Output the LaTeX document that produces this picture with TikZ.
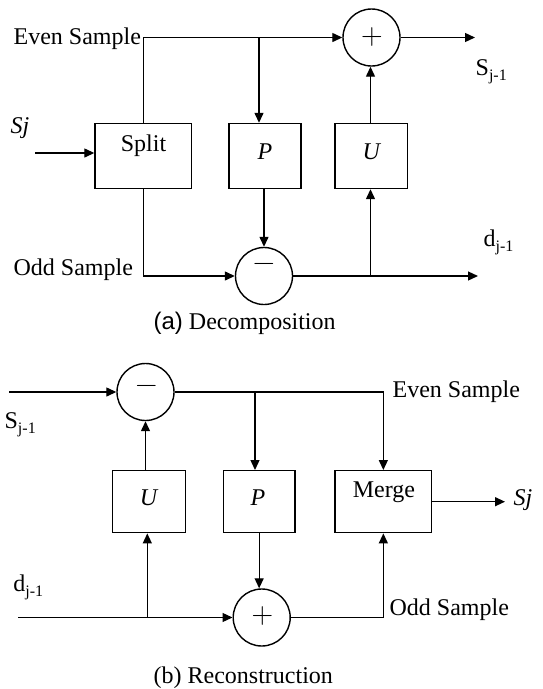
\documentclass[tikz,border=0pt]{standalone}
\usepackage{fontspec}
\setmainfont{Liberation Serif}
\newfontfamily\arialf{Liberation Sans}
\newfontfamily\lmfont{Latin Modern Roman}
\usetikzlibrary{arrows.meta}
\newcommand\subsc[1]{\raisebox{-5pt}{\fontsize{16}{16}\selectfont #1}}
\begin{document}
\begin{tikzpicture}[x=1pt,y=-1pt,line width=1.3pt,
  font=\fontsize{24}{26}\selectfont,
  arr/.style={-{Triangle[length=10pt,width=9pt]}},
  blk/.style={draw,line width=1.4pt,inner sep=0pt,minimum height=#1},
  sumc/.style={draw,circle,line width=1.4pt,inner sep=0pt,minimum size=57pt},
  glyph/.style={inner sep=0pt,font=\lmfont\fontsize{30}{30}\selectfont},
  lbl/.style={anchor=base west,inner sep=0pt},
  intxt/.style={anchor=base,inner sep=0pt}]
\useasboundingbox[fill=white] (0,0) rectangle (543,689);

% ---------------- (a) Decomposition ----------------
\node[blk=65pt,minimum width=96.5pt] (split) at (143.25,156) {};
\node[blk=65pt,minimum width=72pt] (PA) at (265,156) {};
\node[blk=65pt,minimum width=72.5pt] (UA) at (371.25,156) {};
\node[sumc] (plusA) at (371.5,37.5) {};
\node[sumc] (minusA) at (264,276) {};
\node[glyph] (plusAg) at (372,37.5) {+};
\node[glyph] (minusAg) at (264,267) {−};

\node[intxt] (splitT) at (143.5,151) {Split};
\node[intxt] (PAt) at (265,159) {\textit{P}};
\node[intxt] (UAt) at (372,159) {\textit{U}};

\node[lbl] (evenA) at (13,44) {Even Sample};
\node[lbl] (oddA) at (13,275) {Odd Sample};
\node[lbl] (sjA) at (10,133) {\textit{Sj}};
\node[lbl] (sA) at (475,75) {S\subsc{j-1}};
\node[lbl] (dA) at (483,246) {d\subsc{j-1}};
\node[lbl] (capA) at (153,329) {{\arialf (a)} Decomposition};

\coordinate (inA) at (35,153);
\coordinate (tapA) at (259,37.5);
\coordinate (outA) at (475,37.5);
\coordinate (dOutA) at (478,276);
\coordinate (brA) at (370.5,276);

\draw[arr] (inA) -- (inA -| split.west);
\draw[arr] (split.north) |- (plusA.west);
\draw[arr] (tapA) -- (tapA |- PA.north);
\draw[arr] (plusA.east) -- (outA);
\draw[arr] (split.south) |- (minusA.west);
\draw[arr] (minusA.north |- PA.south) -- (minusA.north);
\draw[arr] (minusA.east) -- (dOutA);
\draw[arr] (brA) -- (brA |- UA.south);
\draw[arr] (brA |- UA.north) -- (brA |- plusA.south);

% ---------------- (b) Reconstruction ----------------
\node[blk=62pt,minimum width=73pt] (UB) at (149.2,501.7) {};
\node[blk=62pt,minimum width=71.7pt] (PB) at (259.15,501.7) {};
\node[blk=62pt,minimum width=96.7pt] (merge) at (383.35,501.7) {};
\node[sumc] (minusB) at (145.5,392) {};
\node[sumc] (plusB) at (261.7,617.5) {};
\node[glyph] (minusBg) at (146.5,389) {−};
\node[glyph] (plusBg) at (262.5,616) {+};

\node[intxt] (mergeT) at (384,497) {Merge};
\node[intxt] (UBt) at (149.3,505) {\textit{U}};
\node[intxt] (PBt) at (258,505) {\textit{P}};

\node[lbl] (sB) at (4,428) {S\subsc{j-1}};
\node[lbl] (dB) at (12.7,591.7) {d\subsc{j-1}};
\node[lbl] (evenB) at (392,397) {Even Sample};
\node[lbl] (oddB) at (389,615) {Odd Sample};
\node[lbl] (sjB) at (513,505) {\textit{Sj}};
\node[lbl] (capB) at (153,683) {(b) Reconstruction};

\coordinate (inB) at (9,392);
\coordinate (tapB) at (255,392);
\coordinate (dinB) at (18,617.5);
\coordinate (brB) at (147.3,617.5);
\coordinate (outB) at (505,501.7);

\draw[arr] (inB) -- (minusB.west);
\draw[arr] (minusB.east) -| (merge.north);
\draw[arr] (tapB) -- (tapB |- PB.north);
\draw[arr] (minusB.south |- UB.north) -- (minusB.south);
\draw[arr] (brB) -- (brB |- UB.south);
\draw[arr] (dinB) -- (plusB.west);
\draw[arr] (PB.south) -- (PB.south |- plusB.north);
\draw[arr] (plusB.east) -| (merge.south);
\draw[arr] (merge.east) -- (outB);
\end{tikzpicture}
\end{document}
